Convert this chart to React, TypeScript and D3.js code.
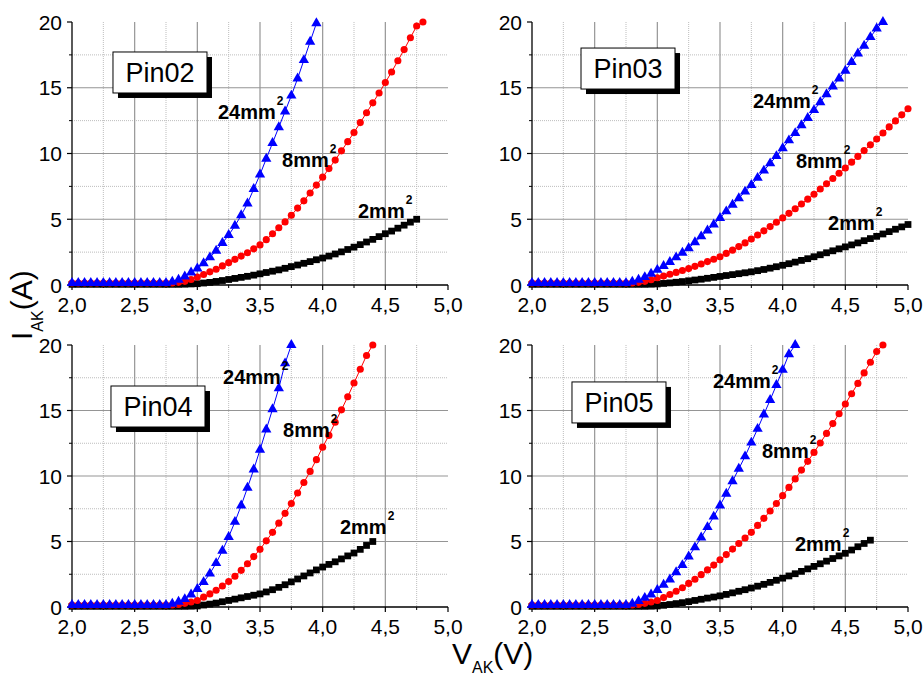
import React from 'react';
import * as d3 from 'd3';

// ---------- DATA ----------
const voltages = [2.00, 2.05, 2.10, 2.15, 2.20, 2.25, 2.30, 2.35, 2.40, 2.45, 2.50, 2.55, 2.60, 2.65, 2.70, 2.75, 2.80, 2.85, 2.90, 2.95, 3.00, 3.05, 3.10, 3.15, 3.20, 3.25, 3.30, 3.35, 3.40, 3.45, 3.50, 3.55, 3.60, 3.65, 3.70, 3.75, 3.80, 3.85, 3.90, 3.95, 4.00, 4.05, 4.10, 4.15, 4.20, 4.25, 4.30, 4.35, 4.40, 4.45, 4.50, 4.55, 4.60, 4.65, 4.70, 4.75, 4.80, 4.85, 4.90, 4.95, 5.00];

const xTickValues = [2.0, 2.5, 3.0, 3.5, 4.0, 4.5, 5.0];
const xTickLabels = ['2,0', '2,5', '3,0', '3,5', '4,0', '4,5', '5,0'];
const xMinorValues = [2.25, 2.75, 3.25, 3.75, 4.25, 4.75];
const yTickValues = [0, 5, 10, 15, 20];
const yTickLabels = ['0', '5', '10', '15', '20'];
const yMinorValues = [2.5, 7.5, 12.5, 17.5];

const panelNames = ['Pin02', 'Pin03', 'Pin04', 'Pin05'];
const seriesNames = ['2mm', '8mm', '24mm'];

// Pin02
const pin02_2mm = [0.05, 0.05, 0.05, 0.05, 0.05, 0.05, 0.05, 0.05, 0.05, 0.05, 0.05, 0.05, 0.05, 0.05, 0.05, 0.05, 0.05, 0.05, 0.06, 0.08,
  0.1, 0.15, 0.2, 0.27, 0.34, 0.42, 0.5, 0.58, 0.66, 0.75,
  0.85, 0.95, 1.05, 1.15, 1.27, 1.4, 1.52, 1.65, 1.78, 1.92,
  2.05, 2.2, 2.36, 2.52, 2.7, 2.88, 3.07, 3.27, 3.47, 3.68,
  3.9, 4.1, 4.32, 4.55, 4.78, 5.0];
const pin02_8mm = [0.15, 0.15, 0.15, 0.15, 0.15, 0.15, 0.15, 0.15, 0.15, 0.15, 0.15, 0.15, 0.15, 0.15, 0.15, 0.15, 0.15, 0.2, 0.28, 0.42,
  0.6, 0.8, 1.0, 1.2, 1.45, 1.7, 1.95, 2.2, 2.45, 2.75,
  3.05, 3.45, 3.9, 4.35, 4.8, 5.3, 5.85, 6.4, 7.0, 7.6,
  8.2, 8.85, 9.5, 10.2, 10.9, 11.6, 12.35, 13.1, 13.85, 14.6,
  15.4, 16.2, 17.05, 17.9, 18.8, 19.7, 20.0];
const pin02_24mm = [0.15, 0.15, 0.15, 0.15, 0.15, 0.15, 0.15, 0.15, 0.15, 0.15, 0.15, 0.15, 0.15, 0.15, 0.15, 0.15, 0.25, 0.4, 0.65, 0.95,
  1.25, 1.65, 2.1, 2.6, 3.2, 3.8, 4.5, 5.3, 6.2, 7.3,
  8.4, 9.6, 10.8, 12.0, 13.2, 14.4, 15.7, 17.1, 18.5, 19.9];

// Pin03
const pin03_2mm = [0.05, 0.05, 0.05, 0.05, 0.05, 0.05, 0.05, 0.05, 0.05, 0.05, 0.05, 0.05, 0.05, 0.05, 0.05, 0.05, 0.05, 0.05, 0.05, 0.06,
  0.08, 0.12, 0.16, 0.21, 0.26, 0.32, 0.38, 0.44, 0.51, 0.58,
  0.65, 0.72, 0.79, 0.86, 0.93, 1.0, 1.09, 1.18, 1.28, 1.39,
  1.5, 1.62, 1.74, 1.87, 2.0, 2.15, 2.3, 2.45, 2.6, 2.75,
  2.9, 3.05, 3.2, 3.37, 3.53, 3.7, 3.88, 4.06, 4.24, 4.42,
  4.6];
const pin03_8mm = [0.15, 0.15, 0.15, 0.15, 0.15, 0.15, 0.15, 0.15, 0.15, 0.15, 0.15, 0.15, 0.15, 0.15, 0.15, 0.15, 0.15, 0.2, 0.28, 0.4,
  0.55, 0.68, 0.82, 0.96, 1.1, 1.25, 1.42, 1.6, 1.78, 1.96,
  2.15, 2.4, 2.65, 2.92, 3.2, 3.5, 3.8, 4.12, 4.44, 4.77,
  5.1, 5.45, 5.8, 6.16, 6.53, 6.9, 7.3, 7.7, 8.1, 8.5,
  8.9, 9.34, 9.78, 10.22, 10.66, 11.1, 11.56, 12.02, 12.48, 12.94,
  13.4];
const pin03_24mm = [0.15, 0.15, 0.15, 0.15, 0.15, 0.15, 0.15, 0.15, 0.15, 0.15, 0.15, 0.15, 0.15, 0.15, 0.15, 0.15, 0.25, 0.4, 0.6, 0.85,
  1.15, 1.45, 1.75, 2.1, 2.45, 2.8, 3.25, 3.7, 4.15, 4.6,
  5.1, 5.6, 6.1, 6.6, 7.1, 7.6, 8.15, 8.7, 9.25, 9.8,
  10.4, 11.0, 11.55, 12.15, 12.7, 13.3, 13.9, 14.5, 15.1, 15.7,
  16.3, 16.95, 17.6, 18.2, 18.85, 19.5, 20.0];

// Pin04
const pin04_2mm = [0.05, 0.05, 0.05, 0.05, 0.05, 0.05, 0.05, 0.05, 0.05, 0.05, 0.05, 0.05, 0.05, 0.05, 0.05, 0.05, 0.05, 0.05, 0.05, 0.06,
  0.08, 0.15, 0.22, 0.3, 0.4, 0.5, 0.6, 0.7, 0.8, 0.9,
  1.0, 1.15, 1.32, 1.5, 1.7, 1.92, 2.14, 2.37, 2.6, 2.83,
  3.05, 3.25, 3.45, 3.67, 3.9, 4.12, 4.4, 4.7, 5.0];
const pin04_8mm = [0.15, 0.15, 0.15, 0.15, 0.15, 0.15, 0.15, 0.15, 0.15, 0.15, 0.15, 0.15, 0.15, 0.15, 0.15, 0.15, 0.15, 0.2, 0.28, 0.38,
  0.5, 0.75, 1.0, 1.28, 1.6, 1.95, 2.35, 2.8, 3.3, 3.85,
  4.4, 5.05, 5.7, 6.4, 7.15, 7.9, 8.7, 9.5, 10.35, 11.25,
  12.2, 13.1, 14.1, 15.05, 16.05, 17.1, 18.15, 19.2, 20.0];
const pin04_24mm = [0.15, 0.15, 0.15, 0.15, 0.15, 0.15, 0.15, 0.15, 0.15, 0.15, 0.15, 0.15, 0.15, 0.15, 0.15, 0.15, 0.25, 0.4, 0.6, 0.95,
  1.37, 1.9, 2.55, 3.35, 4.3, 5.35, 6.5, 7.75, 9.1, 10.5,
  12.0, 13.55, 15.1, 16.7, 18.6, 20.0];

// Pin05
const pin05_2mm = [0.05, 0.05, 0.05, 0.05, 0.05, 0.05, 0.05, 0.05, 0.05, 0.05, 0.05, 0.05, 0.05, 0.05, 0.05, 0.05, 0.05, 0.05, 0.05, 0.06,
  0.08, 0.13, 0.19, 0.26, 0.33, 0.41, 0.5, 0.59, 0.68, 0.76,
  0.85, 0.96, 1.08, 1.2, 1.32, 1.45, 1.59, 1.73, 1.88, 2.04,
  2.2, 2.37, 2.54, 2.72, 2.91, 3.1, 3.3, 3.5, 3.7, 3.9,
  4.1, 4.35, 4.6, 4.85, 5.1];
const pin05_8mm = [0.15, 0.15, 0.15, 0.15, 0.15, 0.15, 0.15, 0.15, 0.15, 0.15, 0.15, 0.15, 0.15, 0.15, 0.15, 0.15, 0.15, 0.2, 0.28, 0.38,
  0.5, 0.72, 0.95, 1.2, 1.47, 1.8, 2.12, 2.47, 2.83, 3.2,
  3.6, 4.0, 4.42, 4.85, 5.27, 5.7, 6.23, 6.77, 7.33, 7.9,
  8.5, 9.13, 9.78, 10.45, 11.12, 11.8, 12.52, 13.25, 14.0, 14.75,
  15.5, 16.28, 17.07, 17.87, 18.68, 19.5, 20.0];
const pin05_24mm = [0.15, 0.15, 0.15, 0.15, 0.15, 0.15, 0.15, 0.15, 0.15, 0.15, 0.15, 0.15, 0.15, 0.15, 0.15, 0.15, 0.25, 0.45, 0.7, 0.95,
  1.3, 1.7, 2.1, 2.65, 3.2, 3.85, 4.55, 5.3, 6.1, 6.9,
  7.75, 8.65, 9.6, 10.55, 11.5, 12.55, 13.6, 14.7, 15.8, 16.95,
  18.1, 19.3, 20.0];

const panelSeries = [
  [pin02_2mm, pin02_8mm, pin02_24mm],
  [pin03_2mm, pin03_8mm, pin03_24mm],
  [pin04_2mm, pin04_8mm, pin04_24mm],
  [pin05_2mm, pin05_8mm, pin05_24mm],
];

// ---------- LAYOUT / STYLE ----------
const WIDTH = 924;
const HEIGHT = 675;
const PLOT_W = 376;
const FRAMES = [
  { left: 72, top: 22, bottom: 285 },
  { left: 532, top: 22, bottom: 285 },
  { left: 72, top: 345, bottom: 607 },
  { left: 532, top: 345, bottom: 607 },
];
// label anchors in data units [V, A] for series order 2mm, 8mm, 24mm
const LABEL_POS = [
  [[4.282, 5.1], [3.676, 8.97], [3.165, 12.62]],
  [[4.362, 4.18], [4.106, 8.9], [3.763, 13.46]],
  [[4.138, 5.57], [3.684, 12.98], [3.205, 17.02]],
  [[4.098, 4.27], [3.835, 11.37], [3.444, 16.72]],
];
const BOX_POS = [[2.327, 17.72], [2.391, 18.02], [2.311, 16.87], [2.319, 17.18]];
const BOX_W = 94;
const BOX_H = 41;
const COLORS = ['#000000', '#ff0000', '#0000ff'];
const SYMBOLS = [d3.symbolSquare, d3.symbolCircle, d3.symbolTriangle];
const SYMBOL_SIZES = [46, 40, 46];
const FONT = "'Liberation Sans', Arial, Helvetica, sans-serif";

function Panel({ idx }: { idx: number }) {
  const f = FRAMES[idx];
  const x = d3.scaleLinear().domain([2, 5]).range([f.left, f.left + PLOT_W]);
  const y = d3.scaleLinear().domain([0, 20]).range([f.bottom, f.top]);
  const line = d3.line<number>().x((_, i) => x(voltages[i])).y((d) => y(d));
  const series = panelSeries[idx];
  const [bx, by] = BOX_POS[idx];
  const boxX = x(bx);
  const boxY = y(by);
  return (
    <g>
      {/* minor grid */}
      {xMinorValues.map((v) => (
        <line key={'xm' + v} x1={x(v)} x2={x(v)} y1={f.top} y2={f.bottom} stroke="#bdbdbd" strokeWidth={1} strokeDasharray="1,1" />
      ))}
      {yMinorValues.map((v) => (
        <line key={'ym' + v} x1={f.left} x2={f.left + PLOT_W} y1={y(v)} y2={y(v)} stroke="#bdbdbd" strokeWidth={1} strokeDasharray="1,1" />
      ))}
      {/* major grid */}
      {xTickValues.slice(1, -1).map((v) => (
        <line key={'xg' + v} x1={x(v)} x2={x(v)} y1={f.top} y2={f.bottom} stroke="#959595" strokeWidth={1.2} />
      ))}
      {yTickValues.slice(1, -1).map((v) => (
        <line key={'yg' + v} x1={f.left} x2={f.left + PLOT_W} y1={y(v)} y2={y(v)} stroke="#959595" strokeWidth={1.2} />
      ))}
      {/* axes */}
      <line x1={f.left} x2={f.left + PLOT_W} y1={f.bottom} y2={f.bottom} stroke="#000" strokeWidth={1.3} />
      <line x1={f.left} x2={f.left} y1={f.top} y2={f.bottom} stroke="#000" strokeWidth={1.3} />
      {xTickValues.map((v, i) => (
        <g key={'xt' + v}>
          <line x1={x(v)} x2={x(v)} y1={f.bottom} y2={f.bottom + 5} stroke="#000" strokeWidth={1.2} />
          <text x={x(v)} y={f.bottom + 27} textAnchor="middle" fontSize={21} fontFamily={FONT} fill="#000">{xTickLabels[i]}</text>
        </g>
      ))}
      {xMinorValues.map((v) => (
        <line key={'xmt' + v} x1={x(v)} x2={x(v)} y1={f.bottom} y2={f.bottom + 3} stroke="#000" strokeWidth={1} />
      ))}
      {yTickValues.map((v, i) => (
        <g key={'yt' + v}>
          <line x1={f.left - 5} x2={f.left} y1={y(v)} y2={y(v)} stroke="#000" strokeWidth={1.2} />
          <text x={f.left - 10} y={y(v) + 7.5} textAnchor="end" fontSize={21} fontFamily={FONT} fill="#000">{yTickLabels[i]}</text>
        </g>
      ))}
      {yMinorValues.map((v) => (
        <line key={'ymt' + v} x1={f.left - 3} x2={f.left} y1={y(v)} y2={y(v)} stroke="#000" strokeWidth={1} />
      ))}
      {/* series */}
      {series.map((vals, s) => {
        const sym = d3.symbol().type(SYMBOLS[s]).size(SYMBOL_SIZES[s])();
        return (
          <g key={'s' + s}>
            <path d={line(vals) || ''} fill="none" stroke={COLORS[s]} strokeWidth={1} />
            {vals.map((d, i) => (
              <path key={i} d={sym || ''} transform={`translate(${x(voltages[i])},${y(d)})`} fill={COLORS[s]} />
            ))}
          </g>
        );
      })}
      {/* series labels */}
      {LABEL_POS[idx].map(([lv, li], s) => (
        <text key={'lab' + s} x={x(lv)} y={y(li)} fontSize={20} fontWeight="bold" fontFamily={FONT} fill="#000">
          {seriesNames[s]}
          <tspan dx={1} dy={-14} fontSize={12}>2</tspan>
        </text>
      ))}
      {/* pin box */}
      <rect x={boxX + 5} y={boxY + 5} width={BOX_W} height={BOX_H} fill="#000" />
      <rect x={boxX} y={boxY} width={BOX_W} height={BOX_H} fill="#fff" stroke="#000" strokeWidth={1} />
      <text x={boxX + BOX_W / 2} y={boxY + 30} textAnchor="middle" fontSize={27} fontFamily={FONT} fill="#000">{panelNames[idx]}</text>
    </g>
  );
}

export default function App() {
  return (
    <svg width={WIDTH} height={HEIGHT} viewBox={`0 0 ${WIDTH} ${HEIGHT}`} style={{ position: 'absolute', left: 0, top: 0, background: '#fff' }}>
      <rect x={0} y={0} width={WIDTH} height={HEIGHT} fill="#fff" />
      {FRAMES.map((_, i) => <Panel key={i} idx={i} />)}
      <text transform="translate(32,340) rotate(-90)" fontSize={30} fontFamily={FONT} fill="#000">
        I<tspan fontSize={16} dy={11}>AK</tspan><tspan fontSize={30} dy={-11}>(A)</tspan>
      </text>
      <text x={452} y={664} fontSize={30} fontFamily={FONT} fill="#000">
        V<tspan fontSize={16} dy={9}>AK</tspan><tspan fontSize={30} dy={-9}>(V)</tspan>
      </text>
    </svg>
  );
}
